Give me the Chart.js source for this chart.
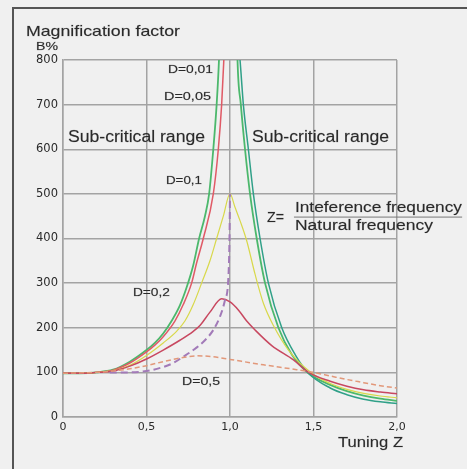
<!DOCTYPE html>
<html><head><meta charset="utf-8">
<script src="https://cdn.jsdelivr.net/npm/chart.js@4/dist/chart.umd.min.js"></script>
<style>html,body{margin:0;padding:0;background:#f0f0f0;}#wrap{width:467px;height:469px;}</style>
</head><body><div id="wrap"><canvas id="c" width="467" height="469"></canvas></div>
<script>
// ---- data ----
const yTickLabels = ['0','100','200','300','400','500','600','700','800'];
const xTickLabels = ['0','0,5','1,0','1,5','2,0'];

const zD001 = [0,0.1,0.2,0.3,0.4,0.5,0.55,0.6,0.65,0.7,0.74,0.78,0.815,0.85,0.875,0.9,0.92,0.934,0.96,1.0,1.03,1.045,1.065,1.09,1.12,1.16,1.21,1.29,1.37,1.47,1.6,1.7,1.8,1.9,2.0];
const vD001 = [98,98,100,106,124,150,166,187,215,250,290,340,400,450,500,600,700,800,1100,1400,1100,800,700,600,500,400,300,200,140,98,72,58,48,41,36];

const zD005 = [0,0.1,0.2,0.3,0.4,0.5,0.55,0.6,0.67,0.72,0.77,0.8,0.84,0.9,0.93,0.95,0.963,0.98,1.0,1.02,1.06,1.08,1.11,1.14,1.18,1.23,1.31,1.39,1.47,1.6,1.7,1.8,1.9,2.0];
const vD005 = [98,98,100,105,121,146,161,180,215,252,300,345,400,500,600,700,800,950,1000,950,800,700,600,500,400,300,200,140,98,65,50,40,34,30];

const zD01 = [0,0.1,0.2,0.3,0.4,0.5,0.6,0.68,0.73,0.78,0.83,0.88,0.92,0.96,1.0,1.03,1.06,1.1,1.15,1.2,1.26,1.35,1.49,1.6,1.7,1.8,1.9,2.0];
const vD01 = [98,98,100,104,116,138,166,192,215,252,300,350,400,450,500,470,440,395,320,255,205,150,98,75,62,53,47,43];

const zD02 = [0,0.1,0.2,0.3,0.4,0.5,0.6,0.7,0.78,0.82,0.88,0.95,1.0,1.05,1.1,1.15,1.25,1.38,1.47,1.6,1.7,1.8,1.9,2.0];
const vD02 = [98,98,100,103,114,130,150,172,192,205,235,265,258,240,215,195,160,128,100,80,69,61,56,52];

const zD05 = [0,0.2,0.3,0.4,0.5,0.6,0.7,0.8,0.9,1.0,1.2,1.4,1.5,1.6,1.7,1.8,1.9,2.0];
const vD05 = [98,100,103,108,115,124,132,137,135,129,117,106,100,92,84,77,70,65];

const zPeak = [0.28,0.4,0.5,0.6,0.66,0.72,0.78,0.85,0.9,0.94,0.97,0.99,0.997,1.0];
const vPeak = [100,100,103,112,121,135,150,172,195,225,262,310,400,500];

// ---- text annotations (data coordinates) ----
const notes = [
  {t:'Magnification factor', x:-0.222, y:863, a:'left', s:14.5, w:154},
  {t:'B%', x:-0.162, y:830, a:'left', s:10.5, w:22},
  {t:'D=0,01', x:0.898, y:778, a:'right', s:11.5, w:45},
  {t:'D=0,05', x:0.886, y:717, a:'right', s:11.5, w:47},
  {t:'D=0,1', x:0.832, y:529, a:'right', s:11.5, w:36},
  {t:'D=0,2', x:0.64, y:278, a:'right', s:11.5, w:37},
  {t:'D=0,5', x:0.713, y:78, a:'left', s:11.5, w:38},
  {t:'Sub-critical range', x:0.03, y:627, a:'left', s:16, w:137},
  {t:'Sub-critical range', x:1.132, y:627, a:'left', s:16, w:137},
  {t:'Z=', x:1.222, y:446, a:'left', s:15, w:17},
  {t:'Inteference frequency', x:1.389, y:468, a:'left', s:14, w:167},
  {t:'Natural frequency', x:1.389, y:427, a:'left', s:14, w:138},
  {t:'Tuning Z', x:1.647, y:-58, a:'left', s:15, w:65}
];
const fraction = {x0:1.383, x1:2.39, y:448};

function pts(z, v){ return z.map((x,i)=>({x:x, y:v[i]})); }

const notesPlugin = {
  id:'notes',
  beforeDraw(chart){
    const ctx = chart.ctx;
    ctx.save();
    ctx.fillStyle = '#f0f0f0';
    ctx.fillRect(0,0,chart.width,chart.height);
    ctx.strokeStyle = '#555';
    ctx.lineWidth = 2;
    ctx.beginPath();
    ctx.moveTo(13, chart.height); ctx.lineTo(13, 8); ctx.lineTo(chart.width, 8);
    ctx.stroke();
    ctx.restore();
  },
  afterDatasetsDraw(chart){
    const ctx = chart.ctx, xs = chart.scales.x, ys = chart.scales.y;
    ctx.save();
    ctx.textBaseline = 'middle';
    notes.forEach(n=>{
      ctx.font = n.s + 'px "Liberation Sans", Arial, sans-serif';
      const mw = ctx.measureText(n.t).width;
      const sx = n.w / mw;
      let px = xs.getPixelForValue(n.x), py = ys.getPixelForValue(n.y);
      ctx.save();
      ctx.fillStyle = '#2a2a2a';
      ctx.strokeStyle = 'rgba(42,42,42,0.35)';
      ctx.lineWidth = 0.4;
      if (n.a === 'right') px -= n.w;
      ctx.translate(px, py);
      ctx.scale(sx, 1);
      ctx.textAlign = 'left';
      ctx.fillText(n.t, 0, 0);
      ctx.strokeText(n.t, 0, 0);
      ctx.restore();
    });
    ctx.strokeStyle = '#777';
    ctx.lineWidth = 1;
    ctx.beginPath();
    const fy = ys.getPixelForValue(fraction.y);
    ctx.moveTo(xs.getPixelForValue(fraction.x0), fy);
    ctx.lineTo(xs.getPixelForValue(fraction.x1), fy);
    ctx.stroke();
    ctx.restore();
  }
};

const mono = {cubicInterpolationMode:'monotone', pointRadius:0, fill:false};

new Chart(document.getElementById('c'), {
  type:'line',
  data:{datasets:[
    Object.assign({label:'D=0,5', data:pts(zD05,vD05), borderColor:'#e2987a', borderWidth:1.5, borderDash:[5,3]}, mono),
    Object.assign({label:'peak', data:pts(zPeak,vPeak), borderColor:'#a27ab8', borderWidth:2, borderDash:[7,4]}, mono),
    Object.assign({label:'D=0,2', data:pts(zD02,vD02), borderColor:'#c84860', borderWidth:1.5}, mono),
    Object.assign({label:'D=0,1', data:pts(zD01,vD01), borderColor:'#d8d84a', borderWidth:1.2}, mono),
    Object.assign({label:'D=0,05', data:pts(zD005,vD005), borderColor:'#e05a66', borderWidth:1.5,
      segment:{borderColor: c => c.p0.parsed.x >= 1.0 ? '#30a088' : '#e05a66'}}, mono),
    Object.assign({label:'D=0,01', data:pts(zD001,vD001), borderColor:'#4cb86c', borderWidth:1.8}, mono)
  ]},
  options:{
    responsive:false, animation:false, devicePixelRatio:1,
    layout:{padding:{top:60, right:70, left:0, bottom:0}},
    plugins:{legend:{display:false}, tooltip:{enabled:false}},
    scales:{
      x:{type:'linear', min:0, max:2, 
        afterFit(s){ s.height = 52; },
        afterBuildTicks(s){ s.ticks = [0,0.5,1,1.5,2].map(v=>({value:v})); },
        ticks:{callback:(v)=>xTickLabels[Math.round(v*2)], color:'#2a2a2a', font:{family:'"DejaVu Sans"', size:11}, padding:4, maxRotation:0, autoSkip:false},
        grid:{color:'#a3a3a3', lineWidth:1.5, drawTicks:false},
        border:{color:'#a3a3a3', width:1.5}
      },
      y:{min:0, max:800,
        afterFit(s){ s.width = 63; },
        ticks:{stepSize:100, callback:(v)=>yTickLabels[Math.round(v/100)], color:'#2a2a2a', font:{family:'"DejaVu Sans"', size:11.5}, padding:5},
        grid:{color:'#a3a3a3', lineWidth:1.5, drawTicks:false},
        border:{color:'#a3a3a3', width:1.5}
      }
    }
  },
  plugins:[notesPlugin]
});
</script></body></html>
